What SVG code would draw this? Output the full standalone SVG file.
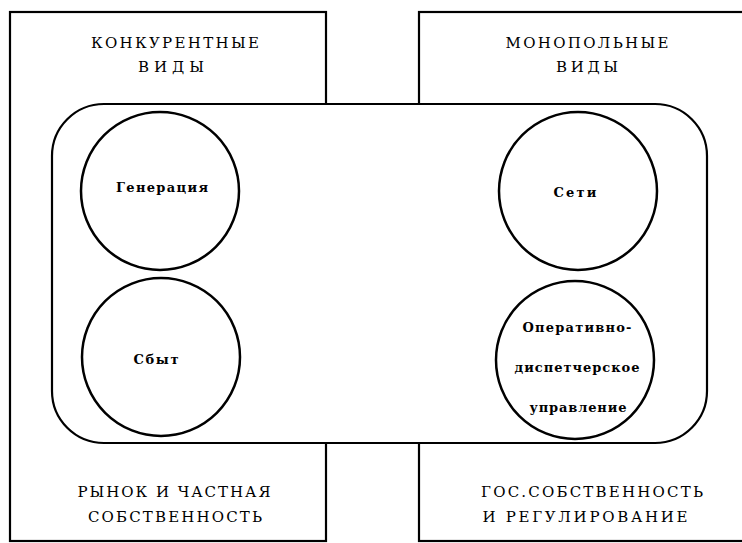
<svg xmlns="http://www.w3.org/2000/svg" width="742" height="543" viewBox="0 0 742 543">
<rect width="742" height="543" fill="#fff"/>
<g id="left-panel">
<rect x="10" y="12" width="316" height="529" fill="#fff" stroke="#000" stroke-width="2.2"/>
<text font-family="DejaVu Serif" font-size="15" text-anchor="middle" x="175" y="48" textLength="168" lengthAdjust="spacing">КОНКУРЕНТНЫЕ</text>
<text font-family="DejaVu Serif" font-size="15" text-anchor="middle" x="171" y="72" textLength="66" lengthAdjust="spacing">ВИДЫ</text>
<text font-family="DejaVu Serif" font-size="15" text-anchor="middle" x="174" y="497" textLength="193" lengthAdjust="spacing">РЫНОК И ЧАСТНАЯ</text>
<text font-family="DejaVu Serif" font-size="15" text-anchor="middle" x="175" y="522" textLength="174" lengthAdjust="spacing">СОБСТВЕННОСТЬ</text>
</g>
<g id="right-panel">
<rect x="419" y="12" width="330" height="529" fill="#fff" stroke="#000" stroke-width="2.2"/>
<text font-family="DejaVu Serif" font-size="15" text-anchor="middle" x="587" y="48" textLength="163" lengthAdjust="spacing">МОНОПОЛЬНЫЕ</text>
<text font-family="DejaVu Serif" font-size="15" text-anchor="middle" x="587" y="72" textLength="62" lengthAdjust="spacing">ВИДЫ</text>
<text font-family="DejaVu Serif" font-size="15" text-anchor="middle" x="592" y="497" textLength="222" lengthAdjust="spacing">ГОС.СОБСТВЕННОСТЬ</text>
<text font-family="DejaVu Serif" font-size="15" text-anchor="middle" x="585" y="522" textLength="205" lengthAdjust="spacing">И РЕГУЛИРОВАНИЕ</text>
</g>
<g id="center">
<rect x="52" y="104" width="655" height="339" rx="52" ry="52" fill="#fff" stroke="#000" stroke-width="2.2"/>
</g>
<g id="generation">
<circle cx="160" cy="191" r="79" fill="#fff" stroke="#000" stroke-width="2.5"/>
<text font-family="DejaVu Serif" font-size="13" font-weight="bold" text-anchor="middle" x="162" y="192" textLength="92" lengthAdjust="spacing">Генерация</text>
</g>
<g id="sales">
<circle cx="161" cy="357" r="79" fill="#fff" stroke="#000" stroke-width="2.5"/>
<text font-family="DejaVu Serif" font-size="13" font-weight="bold" text-anchor="middle" x="156" y="364" textLength="45" lengthAdjust="spacing">Сбыт</text>
</g>
<g id="networks">
<circle cx="578" cy="191" r="79" fill="#fff" stroke="#000" stroke-width="2.5"/>
<text font-family="DejaVu Serif" font-size="13" font-weight="bold" text-anchor="middle" x="575" y="197" textLength="43" lengthAdjust="spacing">Сети</text>
</g>
<g id="dispatch">
<circle cx="575" cy="360" r="79" fill="#fff" stroke="#000" stroke-width="2.5"/>
<text font-family="DejaVu Serif" font-size="13" font-weight="bold" text-anchor="middle" x="577" y="332" textLength="109" lengthAdjust="spacing">Оперативно-</text>
<text font-family="DejaVu Serif" font-size="13" font-weight="bold" text-anchor="middle" x="577" y="372" textLength="125" lengthAdjust="spacing">диспетчерское</text>
<text font-family="DejaVu Serif" font-size="13" font-weight="bold" text-anchor="middle" x="578" y="412" textLength="97" lengthAdjust="spacing">управление</text>
</g>
<g id="connectors"></g>
</svg>
